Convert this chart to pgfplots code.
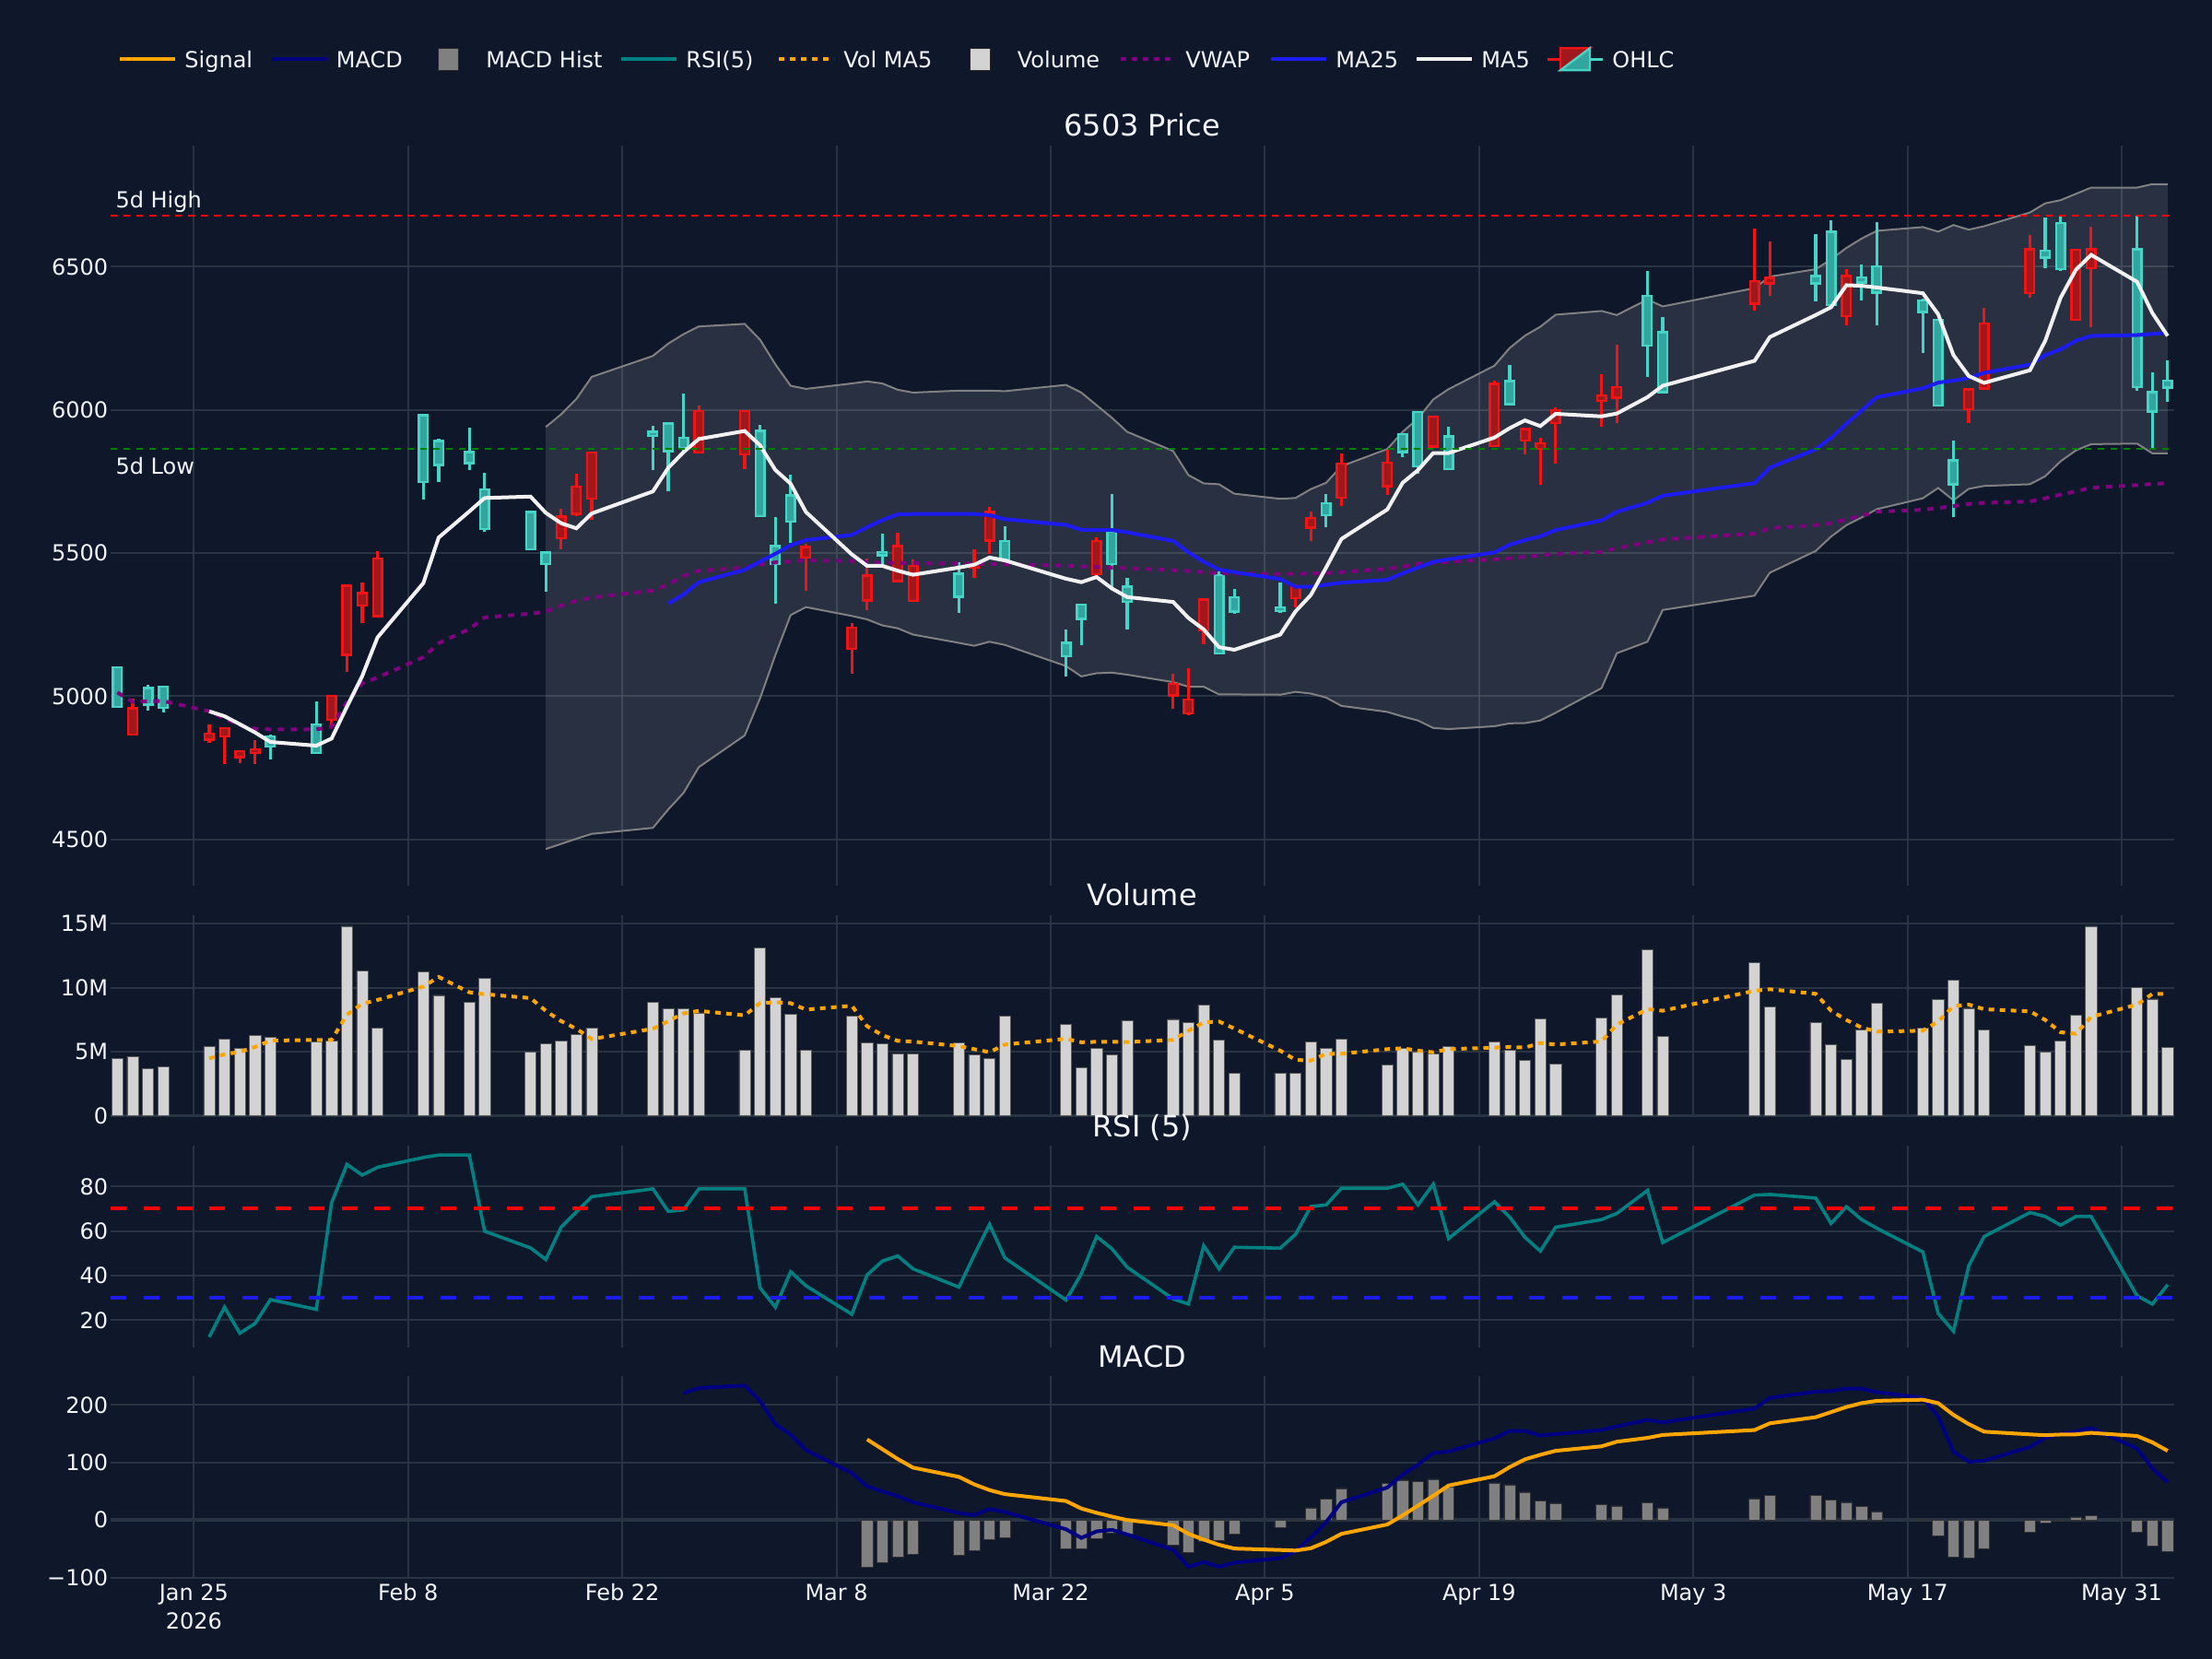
\documentclass[border=0pt]{standalone}
\usepackage{pgfplots}
\pgfplotsset{compat=1.18}
\usepackage{pgfplotstable}
\usepgfplotslibrary{fillbetween}
\usepackage{fontspec}
\setmainfont{DejaVu Sans}

\definecolor{bg}{RGB}{15,23,42}
\definecolor{gridc}{RGB}{40,52,66}
\definecolor{txt}{RGB}{242,245,250}
\definecolor{incol}{RGB}{70,212,198}
\definecolor{infill}{RGB}{50,165,158}
\definecolor{decol}{RGB}{240,20,20}
\definecolor{defill}{RGB}{160,24,28}
\definecolor{sigc}{RGB}{255,165,0}
\definecolor{macdc}{RGB}{0,0,128}
\definecolor{histc}{RGB}{128,128,128}
\definecolor{rsic}{RGB}{0,128,128}
\definecolor{volc}{RGB}{211,211,211}
\definecolor{vwapc}{RGB}{128,0,128}
\definecolor{ma25c}{RGB}{28,28,240}
\definecolor{ma5c}{RGB}{242,242,242}
\definecolor{bbc}{RGB}{128,128,128}
\definecolor{hic}{RGB}{255,0,0}
\definecolor{loc}{RGB}{0,128,0}
\pagecolor{bg}

% ---------- data ----------
\pgfplotstableread{
x o h l c
-5 4963 5101 4963 5101
-3 4971 5040 4951 5029
-2 4960 5037 4942 5034
5 4824 4865 4779 4860
8 4802 4983 4802 4902
15 5747 5986 5686 5981
16 5807 5899 5748 5891
18 5814 5937 5791 5853
19 5584 5781 5574 5722
22 5512 5643 5512 5643
23 5461 5502 5366 5502
30 5909 5944 5790 5923
31 5855 5952 5715 5952
32 5866 6057 5855 5902
37 5628 5948 5628 5926
38 5462 5625 5323 5524
39 5610 5773 5536 5701
45 5492 5567 5459 5504
50 5347 5467 5291 5428
53 5477 5593 5477 5541
57 5139 5234 5069 5186
58 5270 5320 5177 5320
60 5462 5705 5380 5574
61 5329 5412 5233 5382
67 5149 5449 5149 5422
68 5296 5373 5289 5346
71 5298 5398 5292 5310
74 5632 5707 5589 5673
79 5852 5916 5836 5916
80 5803 5993 5776 5993
82 5792 5940 5792 5907
86 6020 6156 6020 6100
95 6225 6485 6114 6398
96 6062 6325 6060 6271
106 6441 6612 6378 6467
107 6365 6662 6365 6622
109 6445 6508 6381 6462
110 6409 6656 6294 6501
113 6342 6389 6198 6382
114 6014 6314 6014 6314
115 5740 5891 5624 5824
121 6531 6672 6494 6555
122 6491 6678 6485 6652
127 6080 6678 6067 6561
128 5994 6131 5864 6062
129 6078 6174 6027 6102
}\upc

\pgfplotstableread{
x o h l c
-4 4958 4991 4865 4865
1 4869 4901 4837 4848
2 4889 4889 4763 4860
3 4807 4812 4766 4787
4 4815 4848 4763 4802
9 5001 5001 4898 4917
10 5385 5385 5085 5144
11 5360 5398 5256 5316
12 5481 5505 5280 5280
24 5627 5653 5513 5551
25 5732 5776 5628 5637
26 5850 5850 5615 5689
33 5995 6016 5850 5850
36 5995 5995 5794 5845
40 5521 5531 5369 5484
43 5240 5255 5079 5165
44 5421 5481 5301 5334
46 5524 5572 5402 5402
47 5455 5477 5333 5333
51 5459 5513 5412 5449
52 5643 5661 5498 5544
59 5541 5553 5416 5425
64 5042 5078 4955 5002
65 4989 5098 4933 4939
66 5338 5338 5182 5229
72 5380 5389 5309 5342
73 5622 5645 5542 5589
75 5813 5849 5663 5693
78 5816 5860 5703 5733
81 5976 5976 5872 5872
85 6090 6103 5873 5873
87 5933 5933 5845 5893
88 5883 5903 5739 5863
89 5999 6007 5813 5953
92 6051 6124 5940 6031
93 6080 6227 5954 6042
102 6449 6632 6347 6371
103 6461 6588 6398 6441
108 6467 6491 6294 6327
116 6071 6071 5955 6002
117 6302 6355 6074 6074
120 6561 6609 6391 6407
123 6558 6558 6314 6314
124 6561 6638 6289 6494
}\dnc

\pgfplotstableread{
x y
1 4947
2 4930
3 4902
4 4873
5 4840
8 4827
9 4852
10 4963
11 5070
12 5205
15 5395
16 5554
18 5645
19 5692
22 5697
23 5640
24 5604
25 5586
26 5638
30 5715
31 5797
32 5852
33 5898
36 5926
37 5876
38 5790
39 5742
40 5643
43 5495
44 5455
45 5455
46 5438
47 5424
50 5449
51 5459
52 5484
53 5474
57 5410
58 5398
59 5416
60 5376
61 5346
64 5329
65 5273
66 5233
67 5171
68 5162
71 5215
72 5296
73 5353
74 5449
75 5549
78 5652
79 5745
80 5789
81 5849
82 5849
85 5903
86 5936
87 5963
88 5943
89 5986
92 5977
93 5987
95 6044
96 6084
102 6171
103 6254
106 6331
107 6358
108 6435
109 6433
110 6427
113 6407
114 6334
115 6191
116 6118
117 6094
120 6138
121 6241
122 6391
123 6489
124 6541
127 6447
128 6338
129 6258
}\mafive

\pgfplotstableread{
x y
31 5323
32 5355
33 5398
36 5441
37 5470
38 5497
39 5527
40 5545
43 5563
44 5590
45 5615
46 5635
47 5636
50 5636
51 5636
52 5632
53 5618
57 5598
58 5581
59 5580
60 5580
61 5572
64 5542
65 5502
66 5469
67 5442
68 5433
71 5409
72 5382
73 5382
74 5389
75 5396
78 5406
79 5429
80 5449
81 5469
82 5478
85 5502
86 5529
87 5545
88 5558
89 5580
92 5614
93 5644
95 5675
96 5700
102 5744
103 5798
106 5862
107 5902
108 5951
109 5998
110 6044
113 6075
114 6095
115 6102
116 6111
117 6129
120 6158
121 6191
122 6211
123 6241
124 6258
127 6261
128 6265
129 6269
}\matwentyfive

\pgfplotstableread{
x y
-5 5013
-4 4980
-3 4982
-2 4983
1 4947
2 4922
3 4898
4 4886
5 4884
8 4884
9 4893
10 4980
11 5045
12 5065
15 5136
16 5185
18 5234
19 5275
22 5288
23 5295
24 5316
25 5333
26 5344
30 5369
31 5390
32 5420
33 5438
36 5449
37 5460
38 5467
39 5470
40 5474
43 5472
44 5468
45 5466
46 5465
47 5464
50 5463
51 5462
52 5461
53 5460
57 5456
58 5453
59 5451
60 5449
61 5447
64 5440
65 5437
66 5433
67 5429
68 5428
71 5427
72 5427
73 5428
74 5430
75 5433
78 5445
79 5452
80 5462
81 5466
82 5469
85 5478
86 5482
87 5487
88 5492
89 5497
92 5504
93 5517
95 5537
96 5547
102 5568
103 5587
106 5597
107 5604
108 5617
109 5631
110 5644
113 5651
114 5657
115 5664
116 5671
117 5675
120 5680
121 5691
122 5704
123 5715
124 5728
127 5737
128 5741
129 5744
}\vwap

\pgfplotstableread{
x u l
23 5940 4466
24 5984 4484
25 6038 4502
26 6115 4519
30 6188 4540
31 6231 4604
32 6264 4662
33 6291 4752
36 6300 4863
37 6245 4992
38 6159 5143
39 6084 5283
40 6073 5311
43 6092 5280
44 6099 5268
45 6092 5247
46 6070 5237
47 6060 5215
50 6067 5186
51 6067 5176
52 6067 5190
53 6065 5179
57 6087 5105
58 6060 5069
59 6016 5080
60 5972 5082
61 5923 5075
64 5856 5049
65 5772 5033
66 5743 5033
67 5740 5006
68 5707 5006
71 5689 5005
72 5692 5015
73 5723 5009
74 5745 4995
75 5803 4966
78 5863 4945
79 5923 4929
80 5969 4915
81 6036 4889
82 6072 4885
85 6154 4895
86 6216 4905
87 6259 4906
88 6290 4915
89 6332 4942
92 6345 5028
93 6331 5150
95 6385 5190
96 6361 5301
102 6425 5351
103 6465 5431
106 6491 5507
107 6525 5557
108 6565 5597
109 6598 5624
110 6625 5653
113 6638 5691
114 6622 5727
115 6645 5684
116 6629 5724
117 6641 5734
120 6689 5740
121 6721 5768
122 6732 5820
123 6754 5858
124 6776 5880
127 6776 5882
128 6788 5848
129 6788 5848
}\bb

\pgfplotstableread{
x v m
-5 4.49 nan
-4 4.63 nan
-3 3.72 nan
-2 3.84 nan
1 5.40 4.49
2 6.00 4.80
3 5.28 5.00
4 6.29 5.38
5 6.14 5.88
8 5.76 5.93
9 5.88 5.93
10 14.81 7.90
11 11.30 8.75
12 6.86 9.05
15 11.26 10.10
16 9.41 10.85
18 8.88 9.65
19 10.75 9.50
22 4.99 9.20
23 5.66 8.20
24 5.83 7.40
25 6.38 6.80
26 6.86 6.00
30 8.88 6.80
31 8.38 7.40
32 8.38 8.00
33 8.04 8.20
36 5.11 7.85
37 13.13 8.80
38 9.24 8.88
39 7.94 8.80
40 5.14 8.30
43 7.78 8.60
44 5.69 7.00
45 5.62 6.30
46 4.85 5.86
47 4.85 5.80
50 5.71 5.45
51 4.80 5.21
52 4.46 4.97
53 7.78 5.57
57 7.16 6.02
58 3.77 5.75
59 5.27 5.78
60 4.78 5.78
61 7.46 5.76
64 7.54 5.93
65 7.30 6.65
66 8.66 7.30
67 5.93 7.37
68 3.34 6.82
71 3.34 5.09
72 3.34 4.37
73 5.76 4.32
74 5.28 4.85
75 5.98 4.85
78 3.98 5.21
79 5.26 5.28
80 5.02 5.09
81 4.85 4.97
82 5.40 5.21
85 5.78 5.33
86 5.16 5.38
87 4.32 5.33
88 7.56 5.69
89 4.08 5.57
92 7.63 5.81
93 9.46 7.13
95 12.98 8.33
96 6.19 8.21
102 11.98 9.77
103 8.50 9.89
106 7.30 9.53
107 5.54 8.21
108 4.39 7.49
109 6.74 6.89
110 8.81 6.58
113 6.86 6.65
114 9.10 7.37
115 10.61 8.57
116 8.40 8.69
117 6.74 8.33
120 5.50 8.16
121 4.99 7.49
122 5.86 6.53
123 7.87 6.41
124 14.81 7.73
127 10.03 8.69
128 9.12 9.53
129 5.35 9.53
}\vol

\pgfplotstableread{
x y
1 12.4
2 25.8
3 14.1
4 18.5
5 29.2
8 24.8
9 72.7
10 89.9
11 85.1
12 88.6
15 93.0
16 94.1
18 94.1
19 59.9
22 52.4
23 47.2
24 61.7
25 68.6
26 75.4
30 78.9
31 68.8
32 69.5
33 78.9
36 78.9
37 34.5
38 25.8
39 41.7
40 35.4
43 22.6
44 40.3
45 46.5
46 48.8
47 43.0
50 34.8
51 49.2
52 63.0
53 47.9
57 29.0
58 40.8
59 57.5
60 52.0
61 43.7
64 29.5
65 27.2
66 53.4
67 43.0
68 52.7
71 52.3
72 58.5
73 71.0
74 71.7
75 79.2
78 79.2
79 81.0
80 71.7
81 81.0
82 56.6
85 73.1
86 66.2
87 57.1
88 51.0
89 61.7
92 65.1
93 67.9
95 78.2
96 54.8
102 76.1
103 76.4
106 74.8
107 63.4
108 70.9
109 65.1
110 61.2
113 50.6
114 23.0
115 15.0
116 44.4
117 57.5
120 68.3
121 66.5
122 62.6
123 66.5
124 66.5
127 30.9
128 27.2
129 35.9
}\rsi

\pgfplotstableread{
x y
32 220.3
33 229.3
36 233.6
37 206.9
38 166.9
39 148.3
40 121.6
43 81.6
44 58.7
45 49.6
46 41.6
47 30.9
50 12.3
51 8.5
52 19.2
53 13.9
57 -16.0
58 -31.0
59 -19.7
60 -17.1
61 -25.1
64 -51.7
65 -81.1
66 -73.1
67 -81.1
68 -74.1
71 -66.1
72 -54.4
73 -30.4
74 -3.7
75 30.9
78 56.5
79 78.9
80 96.0
81 116.3
82 118.9
85 141.9
86 154.7
87 154.7
88 146.7
89 149.3
92 156.3
93 162.7
95 173.9
96 169.6
102 193.6
103 212.3
106 222.9
107 224.0
108 228.3
109 228.3
110 221.9
113 212.3
114 180.0
115 118.9
116 101.3
117 102.9
120 126.9
121 142.9
122 149.3
123 153.6
124 160.0
127 124.3
128 89.6
129 65.6
}\macd

\pgfplotstableread{
x s h
44 140.0 -81.0
45 123.0 -73.0
46 106.0 -63.5
47 91.0 -60.0
50 75.0 -61.0
51 62.0 -53.0
52 52.0 -33.0
53 45.0 -31.0
57 33.0 -49.0
58 20.0 -50.0
59 12.5 -31.5
60 6.0 -22.4
61 0.0 -24.0
64 -9.0 -42.7
65 -24.0 -55.5
66 -34.0 -37.3
67 -43.0 -35.7
68 -49.5 -23.5
71 -52.0 -13.3
72 -53.0 -1.0
73 -49.0 21.3
74 -38.0 36.3
75 -24.0 54.9
78 -7.7 64.0
79 8.0 69.3
80 25.0 66.7
81 42.0 70.9
82 60.0 57.6
85 76.0 64.5
86 92.0 61.3
87 105.5 48.5
88 113.3 33.6
89 120.2 29.3
92 128.0 27.2
93 136.0 24.5
95 142.7 30.4
96 147.8 21.3
102 156.3 37.3
103 168.0 43.2
106 178.6 43.2
107 187.5 34.7
108 196.3 30.9
109 203.0 24.0
110 207.0 14.9
113 209.0 1.6
114 203.0 -26.7
115 182.6 -63.5
116 166.6 -65.0
117 153.5 -49.0
120 148.7 -21.3
121 147.4 -4.8
122 148.5 -1.0
123 148.8 5.3
124 151.4 8.0
127 146.0 -20.8
128 134.9 -45.3
129 120.2 -54.4
}\sig

\pgfplotsset{
  panel/.style={
    scale only axis, width=1119.3bp,
    xmin=-5.45, xmax=129.4,
    axis line style={draw=none},
    major tick length=0pt,
    tick style={draw=none},
    grid=major,
    grid style={gridc, line width=1bp},
    xtick={0,14,28,42,56,70,84,98,112,126},
    tick label style={font=\fontsize{12bp}{15.5bp}\selectfont, text=txt},
    yticklabel style={inner sep=0pt, xshift=-1.2bp},
    clip=true,
  },
  wick/.style={draw=none, mark=none, forget plot,
    error bars/.cd, y dir=plus, y explicit, error mark=none,
    error bar style={draw=#1, line width=1.6bp}},
  body/.style 2 args={draw=none, mark=none, forget plot,
    error bars/.cd, y dir=plus, y explicit, error mark=none,
    error bar style={draw=#1, line width=#2}},
}

\newcommand{\legtext}[2]{\node[anchor=base west, inner sep=0pt, font=\fontsize{12bp}{14bp}\selectfont, text=txt] at (#1bp,863.3bp) {#2};}
\newcommand{\ptitle}[2]{\node[anchor=base, inner sep=0pt, font=\fontsize{16bp}{19bp}\selectfont, text=txt] at (619.6bp,#1bp) {#2};}

\begin{document}
\begin{tikzpicture}
\path (0,0) rectangle (1200bp,900bp);

% ================= PRICE =================
\begin{axis}[panel, at={(59.95bp,419.5bp)}, anchor=south west, height=401.5bp,
  ymin=4338, ymax=6922.6,
  ytick={4500,5000,5500,6000,6500}, yticklabels={4500,5000,5500,6000,6500},
  xticklabels={}]
  \addplot[name path=bbu, bbc, line width=1bp] table[x=x,y=u]{\bb};
  \addplot[name path=bbl, bbc, line width=1bp] table[x=x,y=l]{\bb};
  \addplot[fill=white, fill opacity=0.11, draw=none] fill between[of=bbu and bbl];
  % wicks
  \addplot[wick=incol] table[x=x, y=l, y error plus expr={\thisrow{h}-\thisrow{l}}]{\upc};
  \addplot[wick=decol] table[x=x, y=l, y error plus expr={\thisrow{h}-\thisrow{l}}]{\dnc};
  % bodies
  \addplot[body={incol}{6bp}] table[x=x, y expr={\thisrow{o}-3.9}, y error plus expr={\thisrow{c}-\thisrow{o}+7.8}]{\upc};
  \addplot[body={infill}{3.6bp}] table[x=x, y expr={\thisrow{o}+3.9}, y error plus expr={max(\thisrow{c}-\thisrow{o}-7.8,0)}]{\upc};
  \addplot[body={decol}{6bp}] table[x=x, y expr={\thisrow{c}-3.9}, y error plus expr={\thisrow{o}-\thisrow{c}+7.8}]{\dnc};
  \addplot[body={defill}{3.6bp}] table[x=x, y expr={\thisrow{c}+3.9}, y error plus expr={max(\thisrow{o}-\thisrow{c}-7.8,0)}]{\dnc};
  % lines
  \addplot[vwapc, line width=2bp, dash pattern=on 3.5bp off 3.5bp] table[x=x,y=y]{\vwap};
  \addplot[ma25c, line width=2bp] table[x=x,y=y]{\matwentyfive};
  \addplot[ma5c, line width=2bp] table[x=x,y=y]{\mafive};
  % 5d high / low
  \addplot[hic, line width=1bp, dash pattern=on 3.5bp off 3.5bp] coordinates {(-5.45,6679) (129.4,6679)};
  \addplot[loc, line width=1bp, dash pattern=on 3.5bp off 3.5bp] coordinates {(-5.45,5865) (129.4,5865)};
  \node[anchor=base west, inner sep=0pt, xshift=2.6bp, yshift=4bp, font=\fontsize{12bp}{14bp}\selectfont, text=txt] at (axis cs:-5.45,6679) {5d High};
  \node[anchor=base west, inner sep=0pt, xshift=2.6bp, yshift=-13.8bp, font=\fontsize{12bp}{14bp}\selectfont, text=txt] at (axis cs:-5.45,5865) {5d Low};
\end{axis}

% ================= VOLUME =================
\begin{axis}[panel, at={(59.95bp,294.65bp)}, anchor=south west, height=108.85bp,
  ymin=0, ymax=15.67,
  ytick={0,5,10,15}, yticklabels={0,5M,10M,15M},
  xticklabels={}]
  \addplot[gridc, line width=2bp, forget plot] coordinates {(-5.45,0) (129.4,0)};
  \addplot[ybar, bar width=6.1bp, bar shift=0pt, fill=volc, draw={rgb,255:red,90;green,90;blue,90}, line width=0.3bp] table[x=x,y=v]{\vol};
  \addplot[sigc, line width=2bp, dash pattern=on 3bp off 3bp, unbounded coords=jump] table[x=x,y=m]{\vol};
\end{axis}

% ================= RSI =================
\begin{axis}[panel, at={(59.95bp,169.15bp)}, anchor=south west, height=109.2bp,
  ymin=7.83, ymax=98.2,
  ytick={20,40,60,80}, yticklabels={20,40,60,80},
  xticklabels={}]
  \addplot[rsic, line width=1.8bp] table[x=x,y=y]{\rsi};
  \addplot[hic, line width=2bp, dash pattern=on 8.5bp off 9.4bp] coordinates {(-5.45,70) (129.4,70)};
  \addplot[ma25c, line width=2bp, dash pattern=on 8.5bp off 9.4bp] coordinates {(-5.45,30) (129.4,30)};
\end{axis}

% ================= MACD =================
\begin{axis}[panel, at={(59.95bp,44.15bp)}, anchor=south west, height=109.2bp,
  ymin=-100, ymax=249.6,
  ytick={-100,0,100,200}, yticklabels={−100,0,100,200},
  xticklabels={{Jan 25\\2026},Feb 8,Feb 22,Mar 8,Mar 22,Apr 5,Apr 19,May 3,May 17,May 31},
  xticklabel style={align=center}]
  \addplot[gridc, line width=2bp, forget plot] coordinates {(-5.45,0) (129.4,0)};
  \addplot[ybar, bar width=6.1bp, bar shift=0pt, fill=histc, draw={rgb,255:red,50;green,50;blue,50}, line width=0.3bp] table[x=x,y=h]{\sig};
  \addplot[macdc, line width=2bp] table[x=x,y=y]{\macd};
  \addplot[sigc, line width=2bp] table[x=x,y=s]{\sig};
\end{axis}

% ================= titles =================
\ptitle{826}{6503 Price}
\ptitle{408.5}{Volume}
\ptitle{283.35}{RSI (5)}
\ptitle{158.35}{MACD}

% ================= legend =================
\def\ly{867.85bp}
\draw[sigc, line width=2bp] (64.85bp,\ly) -- ++(30bp,0);
\legtext{100}{Signal}
\draw[macdc, line width=2bp] (147.25bp,\ly) -- ++(30bp,0);
\legtext{182.25}{MACD}
\filldraw[fill=histc, draw={rgb,255:red,40;green,40;blue,40}, line width=0.5bp] (237.5bp,861.85bp) rectangle (248.5bp,873.85bp);
\legtext{263.5}{MACD Hist}
\draw[rsic, line width=2bp] (337bp,\ly) -- ++(30bp,0);
\legtext{372}{RSI(5)}
\draw[sigc, line width=2bp, dash pattern=on 3bp off 3bp] (422.5bp,\ly) -- ++(30bp,0);
\legtext{457.5}{Vol MA5}
\filldraw[fill=volc, draw={rgb,255:red,40;green,40;blue,40}, line width=0.5bp] (526.25bp,861.85bp) rectangle (537.25bp,873.85bp);
\legtext{551.75}{Volume}
\draw[vwapc, line width=2bp, dash pattern=on 3bp off 3bp] (608bp,\ly) -- ++(30bp,0);
\legtext{643}{VWAP}
\draw[ma25c, line width=2bp] (689.5bp,\ly) -- ++(30bp,0);
\legtext{724.5}{MA25}
\draw[ma5c, line width=2bp] (768.5bp,\ly) -- ++(30bp,0);
\legtext{803.5}{MA5}
% OHLC icon
\draw[decol, line width=1.6bp] (839.5bp,\ly) -- (846.5bp,\ly);
\filldraw[fill=defill, draw=decol, line width=1.2bp] (846.5bp,873.85bp) -- (846.5bp,861.85bp) -- (862.5bp,873.85bp) -- cycle;
\draw[incol, line width=1.6bp] (862.5bp,\ly) -- (869.5bp,\ly);
\filldraw[fill=infill, draw=incol, line width=1.2bp] (862.5bp,861.85bp) -- (862.5bp,873.85bp) -- (846.5bp,861.85bp) -- cycle;
\legtext{874.5}{OHLC}
\end{tikzpicture}
\end{document}
